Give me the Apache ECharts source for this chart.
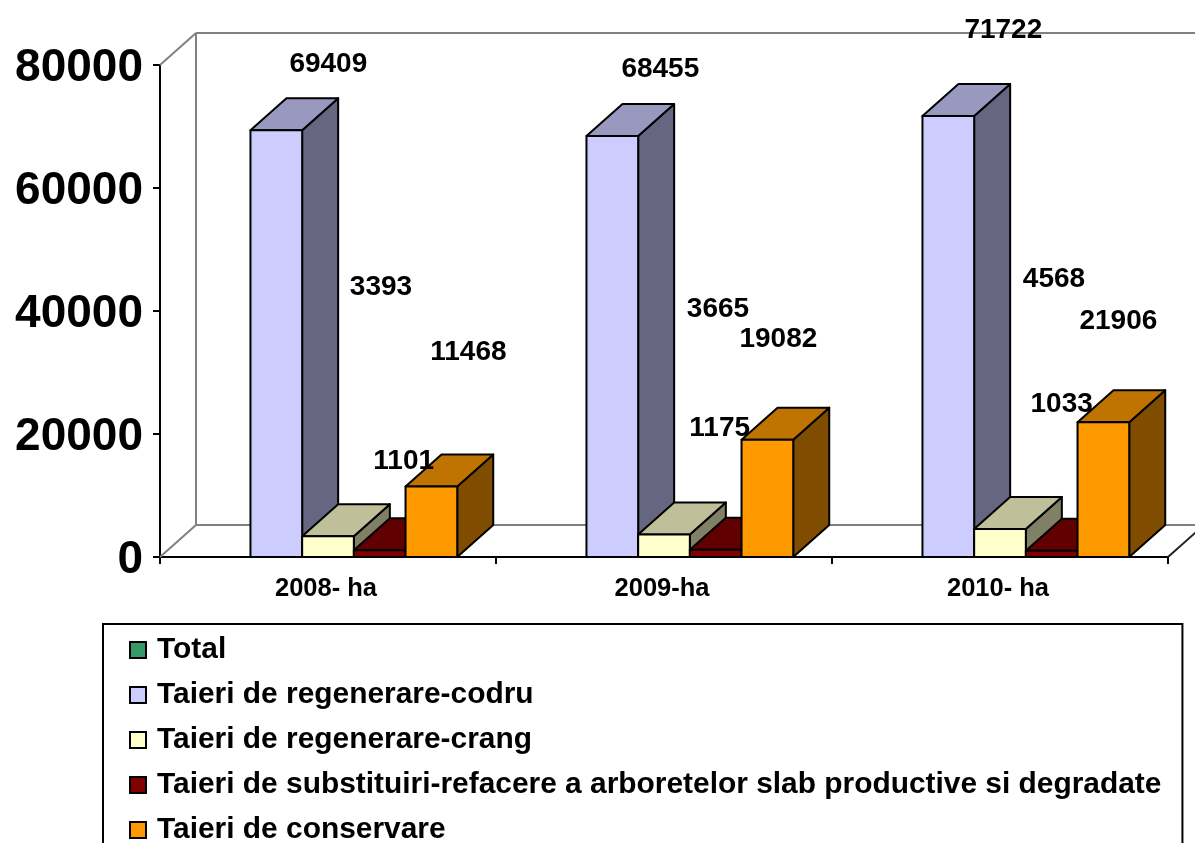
<!DOCTYPE html>
<html>
<head>
<meta charset="utf-8">
<style>html,body{margin:0;padding:0;background:#fff;overflow:hidden}#c{width:1195px;height:843px}</style>
<script src="https://cdn.jsdelivr.net/npm/echarts@6/dist/echarts.min.js"></script>
</head>
<body>
<div id="c"></div>
<script>
const categories = ['2008- ha', '2009-ha', '2010- ha'];
const yTicks = [0, 20000, 40000, 60000, 80000];
const seriesNames = ['Total', 'Taieri de regenerare-codru', 'Taieri de regenerare-crang',
  'Taieri de substituiri-refacere a arboretelor slab productive si degradate', 'Taieri de conservare'];
const total = [];
const codru = [69409, 68455, 71722];
const crang = [3393, 3665, 4568];
const substituiri = [1101, 1175, 1033];
const conservare = [11468, 19082, 21906];

const colors = ['#339966', '#CCCCFF', '#FFFFCC', '#800000', '#FF9900'];
// label displacement from each bar's front-top centre, as the reference places them
const codruLabelShift = [[52, -66], [48, -67], [55, -86]];
const crangLabelShift = [[53, -249], [54, -225], [54, -250]];
const substLabelShift = [[24, -89], [4, -121], [10, -146]];
const consLabelShift = [[37, -134], [11, -100], [15, -101]];

const DEPTH_X = 36, DEPTH_Y = -32, SLOTS = 5, GAP = 1.5;
const FONT = '"Liberation Sans", Arial, sans-serif';

function shade(hex, k) {
  const n = parseInt(hex.slice(1), 16);
  const c = [(n >> 16) & 255, (n >> 8) & 255, n & 255].map(v => Math.round(v * k));
  return 'rgb(' + c.join(',') + ')';
}
function slotCenter(api, cat, slot) {
  const band = api.size([1, 0])[0];
  const w = band / (SLOTS + GAP);
  return api.coord([cat, 0])[0] + (slot - (SLOTS - 1) / 2) * w;
}
function barSeries(slot, values) {
  const color = colors[slot];
  return {
    name: seriesNames[slot],
    type: 'custom',
    coordinateSystem: 'cartesian2d',
    z: 3,
    silent: true,
    clip: false,
    itemStyle: { color: color },
    data: values.map((v, i) => [i, v]),
    renderItem: function (params, api) {
      const cat = api.value(0), val = api.value(1);
      const band = api.size([1, 0])[0];
      const w = band / (SLOTS + GAP);
      const cx = slotCenter(api, cat, slot);
      const yTop = api.coord([cat, val])[1], yBase = api.coord([cat, 0])[1];
      const l = cx - w / 2, r = cx + w / 2;
      const stroke = { stroke: '#000', lineWidth: 2, lineJoin: 'round' };
      const poly = (pts, fill) => ({
        type: 'polygon', shape: { points: pts }, style: Object.assign({ fill: fill }, stroke)
      });
      return {
        type: 'group',
        children: [
          poly([[r, yTop], [r + DEPTH_X, yTop + DEPTH_Y], [r + DEPTH_X, yBase + DEPTH_Y], [r, yBase]], shade(color, 0.5)),
          poly([[l, yTop], [l + DEPTH_X, yTop + DEPTH_Y], [r + DEPTH_X, yTop + DEPTH_Y], [r, yTop]], shade(color, 0.75)),
          poly([[l, yTop], [r, yTop], [r, yBase], [l, yBase]], color)
        ]
      };
    }
  };
}
const frameSeries = {
  name: 'frame',
  type: 'custom',
  coordinateSystem: 'cartesian2d',
  z: 1,
  silent: true,
  clip: false,
  data: [[0, 0]],
  renderItem: function (params, api) {
    const g = params.coordSys;
    const x0 = g.x, x1 = g.x + g.width, yT = g.y, yB = g.y + g.height;
    const line = (a, b, c, d, col) => ({
      type: 'line', shape: { x1: a, y1: b, x2: c, y2: d }, style: { stroke: col, lineWidth: 2 }
    });
    return {
      type: 'group',
      children: [
        line(x0, yT, x0 + DEPTH_X, yT + DEPTH_Y, '#808080'),
        line(x0 + DEPTH_X, yT + DEPTH_Y, x1 + DEPTH_X, yT + DEPTH_Y, '#808080'),
        line(x0 + DEPTH_X, yT + DEPTH_Y, x0 + DEPTH_X, yB + DEPTH_Y, '#808080'),
        line(x0 + DEPTH_X, yB + DEPTH_Y, x1 + DEPTH_X, yB + DEPTH_Y, '#808080'),
        line(x0, yB, x0 + DEPTH_X, yB + DEPTH_Y, '#808080'),
        line(x1, yB, x1 + DEPTH_X, yB + DEPTH_Y, '#222')
      ]
    };
  }
};
const labelRows = [];
[[1, codru, codruLabelShift], [2, crang, crangLabelShift], [3, substituiri, substLabelShift], [4, conservare, consLabelShift]]
  .forEach(([slot, vals, shifts]) => vals.forEach((v, i) => labelRows.push([i, v, slot, shifts[i][0], shifts[i][1]])));
const labelSeries = {
  name: 'labels',
  type: 'custom',
  coordinateSystem: 'cartesian2d',
  z: 5,
  silent: true,
  clip: false,
  data: labelRows,
  renderItem: function (params, api) {
    const cat = api.value(0), val = api.value(1);
    return {
      type: 'text',
      style: {
        text: String(val),
        x: slotCenter(api, cat, api.value(2)) + api.value(3),
        y: api.coord([cat, val])[1] + api.value(4),
        align: 'center', verticalAlign: 'middle',
        font: 'bold 28px ' + FONT, fill: '#000'
      }
    };
  }
};

const chart = echarts.init(document.getElementById('c'), null, { renderer: 'canvas' });
chart.setOption({
  animation: false,
  backgroundColor: '#fff',
  grid: { left: 160, right: 27, top: 65, bottom: 286, containLabel: false },
  legend: {
    show: true,
    left: 103,
    top: 624,
    height: 500,
    orient: 'vertical',
    data: seriesNames,
    icon: 'rect',
    itemWidth: 16,
    itemHeight: 16,
    itemGap: 15,
    padding: [11, 21, 60, 26],
    borderColor: '#000',
    borderWidth: 2,
    backgroundColor: '#fff',
    selectedMode: false,
    itemStyle: { borderColor: '#000', borderWidth: 2 },
    textStyle: { fontFamily: FONT, fontWeight: 'bold', fontSize: 29.9, lineHeight: 30, color: '#000', padding: [0, 0, 0, 6] }
  },
  xAxis: {
    type: 'category',
    data: categories,
    boundaryGap: true,
    axisLine: { show: true, lineStyle: { color: '#000', width: 2 } },
    axisTick: { show: true, alignWithLabel: false, length: 7, lineStyle: { color: '#000', width: 2 } },
    axisLabel: { margin: 19, fontFamily: FONT, fontWeight: 'bold', fontSize: 25.5, color: '#000', padding: [0, 4, 0, 0] },
    splitLine: { show: false }
  },
  yAxis: {
    type: 'value',
    min: yTicks[0],
    max: yTicks[yTicks.length - 1],
    interval: yTicks[1] - yTicks[0],
    axisLine: { show: true, lineStyle: { color: '#000', width: 2 } },
    axisTick: { show: true, length: 7, lineStyle: { color: '#000', width: 2 } },
    axisLabel: { margin: 17, fontFamily: FONT, fontWeight: 'bold', fontSize: 46, color: '#000',
      verticalAlign: 'top', lineHeight: 6, formatter: v => String(v) },
    splitLine: { show: false }
  },
  series: [frameSeries, barSeries(0, total), barSeries(1, codru), barSeries(2, crang),
    barSeries(3, substituiri), barSeries(4, conservare), labelSeries]
});
</script>
</body>
</html>
